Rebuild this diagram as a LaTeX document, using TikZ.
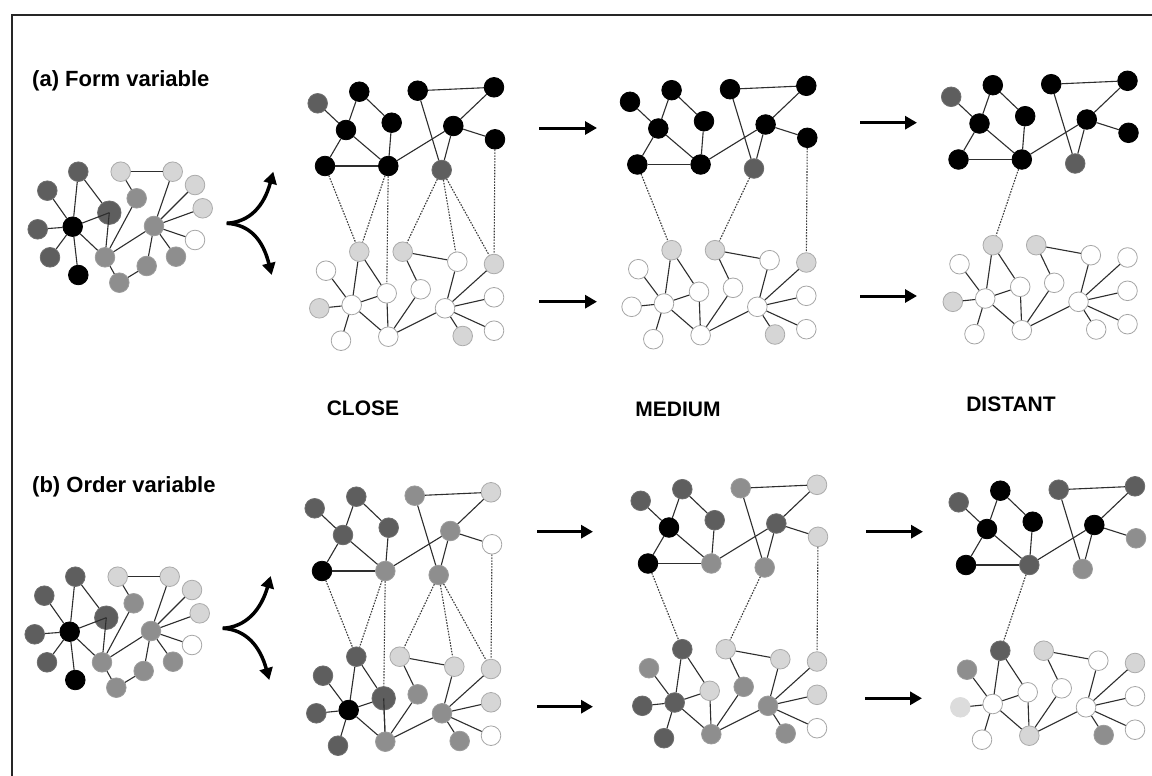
\documentclass[tikz,border=0pt]{standalone}
\usepackage{fontspec}
\setmainfont{Liberation Sans}
\usetikzlibrary{arrows.meta}
\definecolor{cdark}{HTML}{5E5E5E}
\definecolor{cdarkb}{HTML}{6E6E6E}
\definecolor{cmid}{HTML}{8E8E8E}
\definecolor{cmidb}{HTML}{9C9C9C}
\definecolor{clight}{HTML}{D6D6D6}
\definecolor{clightb}{HTML}{ABABAB}
\definecolor{cwhiteb}{HTML}{A6A6A6}
\definecolor{cvlight}{HTML}{DCDCDC}
\definecolor{cedge}{HTML}{2E2E2E}
\definecolor{cdot}{HTML}{3C3C3C}
\tikzset{
  nd/.style={circle, inner sep=0pt, minimum size=19.6pt, line width=0.8pt},
  nK/.style={nd, fill=black, draw=black},
  nD/.style={nd, fill=cdark, draw=cdarkb},
  nDB/.style={nD, minimum size=23.5pt},
  nM/.style={nd, fill=cmid, draw=cmidb},
  nL/.style={nd, fill=clight, draw=clightb},
  nW/.style={nd, fill=white, draw=cwhiteb},
  nV/.style={nd, fill=cvlight, draw=cvlight},
  edge/.style={draw=cedge, line width=1.1pt},
  dotl/.style={draw=cdot, line width=1.1pt, dash pattern=on 1.6pt off 1.3pt},
  bigarrow/.style={line width=3pt, -{Triangle[length=12pt,width=13pt]}},
  forkarrow/.style={line width=3.5pt, -{Triangle[length=12pt,width=13pt]}},
  lab/.style={font=\bfseries\fontsize{21}{25}\selectfont, inner sep=0pt},
  labbig/.style={font=\bfseries\fontsize{22}{26}\selectfont, inner sep=0pt},
}
% template coordinates (upper net, lower net, initial net)
\def\UXs{{317.7,359.3,346,391.7,325,388.3,417.7,494,453.3,495,441.7}}
\def\UYs{{103.3,91.7,130,122.7,166,166,90.7,87.3,126,139.3,170}}
\def\LXs{{359.3,402.7,457.3,494,326,386.7,420.7,319.3,351.7,445,494,341,388.3,462.7,494}}
\def\LYs{{251.7,251.7,261.7,264,270.7,293.3,289.3,308.3,305,308.3,297.3,340.7,336.7,336,330.7}}
\def\AXs{{78.3,47.3,109.3,72.7,37.7,50,78.3,105,120.7,172.7,136.7,195,202.7,154,195,176,146.7,119.3}}
\def\AYs{{171.7,190.7,212.7,226.7,229.3,257.3,275,257.3,171.7,171.7,198.3,185,208.3,226,240,256.7,266,282.7}}
\def\Uedges{1/3,2/3,2/4,3/5,3/6,4/6,5/6,6/9,7/8,7/11,8/9,9/10,9/11}
\def\Ledges{1/9,1/6,2/3,2/7,3/10,4/10,5/9,8/9,9/6,9/12,9/13,6/13,7/13,13/10,10/11,10/14,10/15}
\def\Aedges{1/4,1/3,2/4,4/5,4/6,4/7,4/8,8/11,8/14,8/18,9/10,9/11,10/14,12/14,13/14,14/15,14/16,14/17,17/18}
% #1 prefix, #2 dx, #3 dy, #4 X list, #5 Y list, #6 style list
\newcommand\placenet[6]{%
  \foreach \s [count=\i from 0] in {#6} {
    \pgfmathsetmacro\nx{#4[\i]+#2}
    \pgfmathsetmacro\ny{#5[\i]+#3}
    \pgfmathtruncatemacro\j{\i+1}
    \edef\tmpnode{\noexpand\node[\s] (#1\j) at (\nx,\ny) {};}
    \tmpnode
  }%
}
\newcommand\joinnet[2]{%
  \foreach \a/\b in #2 { \draw[edge] (#1\a) -- (#1\b); }%
}
\newcommand\dotnet[3]{% upper prefix, lower prefix, list
  \foreach \a/\b in {#3} { \draw[dotl] (#1\a) -- (#2\b); }%
}
\begin{document}
\begin{tikzpicture}[x=1pt, y=-1pt]
\useasboundingbox (0,0) rectangle (1152,776);
\fill[white] (0,0) rectangle (1152,776);
% frame
\draw[line width=1.2pt, color=black!85] (12,776) -- (12,15) -- (1152,15);
% titles
\node[labbig, anchor=west] (ta) at (32,81) {(a) Form variable};
\node[labbig, anchor=west] (tb) at (32,487) {(b) Order variable};
\node[lab] (tclose) at (363,408) {CLOSE};
\node[lab] (tmedium) at (678,409) {MEDIUM};
\node[lab] (tdistant) at (1011,404) {DISTANT};

% ---------- initial networks ----------
\placenet{aA}{0}{0}{\AXs}{\AYs}{nD,nD,nDB,nK,nD,nD,nK,nM,nL,nL,nM,nL,nL,nM,nW,nM,nM,nM}
\joinnet{aA}{\Aedges}
\draw[edge] (aA3.center) -- (aA4);
\draw[edge] (aA3.center) -- (aA8);
\placenet{bA}{-3}{405}{\AXs}{\AYs}{nD,nD,nDB,nK,nD,nD,nK,nM,nL,nL,nM,nL,nL,nM,nW,nM,nM,nM}
\joinnet{bA}{\Aedges}
\draw[edge] (bA3.center) -- (bA4);
\draw[edge] (bA3.center) -- (bA8);

% ---------- (a) CLOSE ----------
\placenet{aCU}{0}{0}{\UXs}{\UYs}{nD,nK,nK,nK,nK,nK,nK,nK,nK,nK,nD}
\joinnet{aCU}{\Uedges}
\placenet{aCL}{0}{0}{\LXs}{\LYs}{nL,nL,nW,nL,nW,nW,nW,nL,nW,nW,nW,nW,nW,nL,nW}
\joinnet{aCL}{\Ledges}
\dotnet{aCU}{aCL}{5/1,6/1,6/6,11/2,11/3,11/4,10/4}

% ---------- (a) MEDIUM ----------
\placenet{aMU}{312.3}{-1.5}{\UXs}{\UYs}{nK,nK,nK,nK,nK,nK,nK,nK,nK,nK,nD}
\joinnet{aMU}{\Uedges}
\placenet{aML}{312.3}{-1.5}{\LXs}{\LYs}{nL,nL,nW,nL,nW,nW,nW,nW,nW,nW,nW,nW,nW,nL,nW}
\joinnet{aML}{\Ledges}
\dotnet{aMU}{aML}{5/1,11/2,10/4}

% ---------- (a) DISTANT ----------
\placenet{aDU}{633.5}{-6.5}{\UXs}{\UYs}{nD,nK,nK,nK,nK,nK,nK,nK,nK,nK,nD}
\joinnet{aDU}{\Uedges}
\placenet{aDL}{633.5}{-6.5}{\LXs}{\LYs}{nL,nL,nW,nW,nW,nW,nW,nL,nW,nW,nW,nW,nW,nW,nW}
\joinnet{aDL}{\Ledges}
\dotnet{aDU}{aDL}{6/1}

% ---------- (b) CLOSE ----------
\placenet{bCU}{-3}{405}{\UXs}{\UYs}{nD,nD,nD,nD,nK,nM,nM,nL,nM,nW,nM}
\joinnet{bCU}{\Uedges}
\placenet{bCL}{-3}{405}{\LXs}{\LYs}{nD,nL,nL,nL,nD,nDB,nM,nD,nK,nM,nL,nD,nM,nM,nW}
\joinnet{bCL}{\Ledges}
\draw[edge] (bCL6.center) -- (bCL13);
\dotnet{bCU}{bCL}{5/1,6/1,6/6,11/2,11/3,11/4,10/4}

% ---------- (b) MEDIUM ----------
\placenet{bMU}{323}{397.5}{\UXs}{\UYs}{nD,nD,nK,nD,nK,nM,nM,nL,nD,nL,nM}
\joinnet{bMU}{\Uedges}
\placenet{bML}{323}{397.5}{\LXs}{\LYs}{nD,nL,nL,nL,nM,nL,nM,nD,nD,nM,nL,nD,nM,nM,nW}
\joinnet{bML}{\Ledges}
\dotnet{bMU}{bML}{5/1,11/2,10/4}

% ---------- (b) DISTANT ----------
\placenet{bDU}{641}{399}{\UXs}{\UYs}{nD,nK,nK,nK,nK,nD,nD,nD,nK,nM,nM}
\joinnet{bDU}{\Uedges}
\placenet{bDL}{641}{399}{\LXs}{\LYs}{nD,nL,nW,nL,nM,nW,nW,nV,nW,nW,nW,nW,nL,nM,nW}
\joinnet{bDL}{\Ledges}
\dotnet{bDU}{bDL}{6/1}

% ---------- fork arrows ----------
\coordinate (aJ) at (226.7,223.3);
\coordinate (aT1) at (273.3,171.7);
\coordinate (aT2) at (271.7,275);
\draw[forkarrow] (aJ) .. controls (250,222) and (264,206) .. (aT1);
\draw[forkarrow] (aJ) .. controls (250,224.6) and (263,240) .. (aT2);
\coordinate (bJ) at (222.7,628.3);
\coordinate (bT1) at (270.7,576);
\coordinate (bT2) at (269.3,680);
\draw[forkarrow] (bJ) .. controls (246,627) and (261,610) .. (bT1);
\draw[forkarrow] (bJ) .. controls (246,629.6) and (260,646) .. (bT2);

% ---------- horizontal arrows ----------
\coordinate (a1s) at (539,128);   \coordinate (a1e) at (597,128);
\coordinate (a2s) at (539,301.7); \coordinate (a2e) at (597,301.7);
\coordinate (a3s) at (860,122.7); \coordinate (a3e) at (917,122.7);
\coordinate (a4s) at (860,296);   \coordinate (a4e) at (917,296);
\coordinate (b1s) at (537,531.7); \coordinate (b1e) at (593,531.7);
\coordinate (b2s) at (537,706.7); \coordinate (b2e) at (593,706.7);
\coordinate (b3s) at (866,531.7); \coordinate (b3e) at (923,531.7);
\coordinate (b4s) at (865,698.3); \coordinate (b4e) at (922,698.3);
\foreach \p in {a1,a2,a3,a4,b1,b2,b3,b4} { \draw[bigarrow] (\p s) -- (\p e); }
\end{tikzpicture}
\end{document}
